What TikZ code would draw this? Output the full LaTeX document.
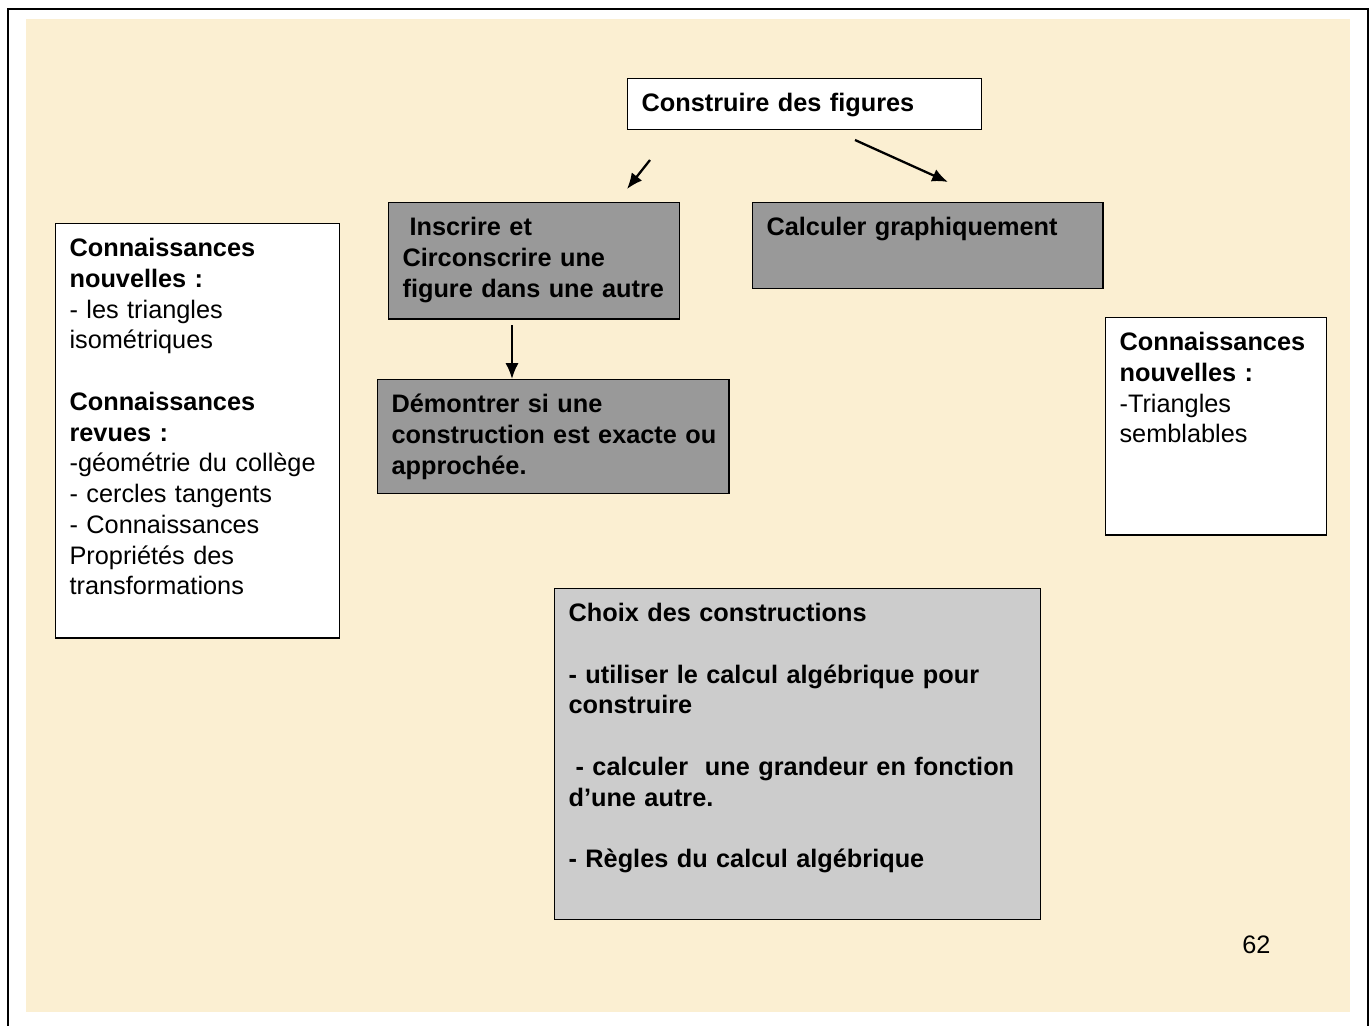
\documentclass[tikz,border=0pt]{standalone}
\usepackage{fontspec}
\setmainfont{Liberation Sans}
\usepackage{xcolor}
\usetikzlibrary{arrows.meta}
\definecolor{parchment}{RGB}{251,239,210}
\definecolor{boxgray}{RGB}{153,153,153}
\definecolor{boxlight}{RGB}{204,204,204}

\tikzset{
 box/.style={draw, line width=0.8pt, anchor=north west, align=left,
  inner xsep=7.9pt, inner ysep=7.7pt, text height=11pt,
  font=\fontsize{14.4}{17.5}\selectfont},
 whitebox/.style={box, fill=white},
 graybox/.style={box, fill=boxgray},
 lightbox/.style={box, fill=boxlight},
 link/.style={-{Latex[length=9pt, width=7.5pt]}, line width=1.3pt},
}

\begin{document}
\begin{tikzpicture}[x=0.02cm, y=-0.02cm]
 \useasboundingbox (0,0) rectangle (1372,1025);

 %page frame and background
 \draw[line width=1.2pt] (8,1030) -- (8,9) -- (1368,9) -- (1368,1030);
 \fill[parchment] (26,19) rectangle (1350,1012);

 %boxes
 \node[whitebox, text width=185.4pt, text depth=2.5pt] (construire) at (627,78)
  {\textbf{Construire des figures}};
 \node[graybox, text width=149.6pt, text depth=39.9pt] (inscrire) at (388,202)
  {\textbf{\hspace*{4pt}Inscrire et}\\\textbf{Circonscrire une}\\\mbox{\textbf{figure dans une autre}}};
 \node[graybox, text width=183.6pt, text depth=22.4pt] (calculer) at (752,202)
  {\textbf{Calculer graphiquement}};
 \node[graybox, text width=184.2pt, text depth=38.2pt] (demontrer) at (377,379)
  {\textbf{Démontrer si une}\\\mbox{\textbf{construction est exacte ou}}\\\textbf{approchée.}};
 \node[lightbox, text width=260.7pt, text depth=161.8pt] (choix) at (554,588)
  {\textbf{Choix des constructions}\\[17.5pt]
   \textbf{- utiliser le calcul algébrique pour}\\\textbf{construire}\\[17.5pt]
   \mbox{\textbf{\hspace*{4pt}- calculer~ une grandeur en fonction}}\\\textbf{d’une autre.}\\[17.5pt]
   \textbf{- Règles du calcul algébrique}};
 \node[whitebox, text width=145.7pt, text depth=209.4pt] (connleft) at (55,223)
  {\textbf{Connaissances}\\\textbf{nouvelles :}\\- les triangles\\isométriques\\[17.5pt]
   \textbf{Connaissances}\\\textbf{revues :}\\\mbox{-géométrie du collège}\\- cercles tangents\\
   - Connaissances\\Propriétés des\\transformations};
 \node[whitebox, text width=110pt, text depth=97.2pt] (connright) at (1105,317)
  {\textbf{Connaissances}\\\textbf{nouvelles :}\\-Triangles\\semblables};
 \node[anchor=west, inner sep=0pt, font=\fontsize{14.4}{17.5}\selectfont] (pagenum) at (1242,945) {62};

 %arrows
 \coordinate (a1s) at (650,160);
 \coordinate (a1e) at (627,189);
 \coordinate (a2s) at (855,140);
 \coordinate (a2e) at (948,182);
 \coordinate (a3s) at (512,325);
 \draw[link] (a1s) -- (a1e);
 \draw[link] (a2s) -- (a2e);
 \draw[link] (a3s) -- (a3s |- demontrer.north);
\end{tikzpicture}
\end{document}
